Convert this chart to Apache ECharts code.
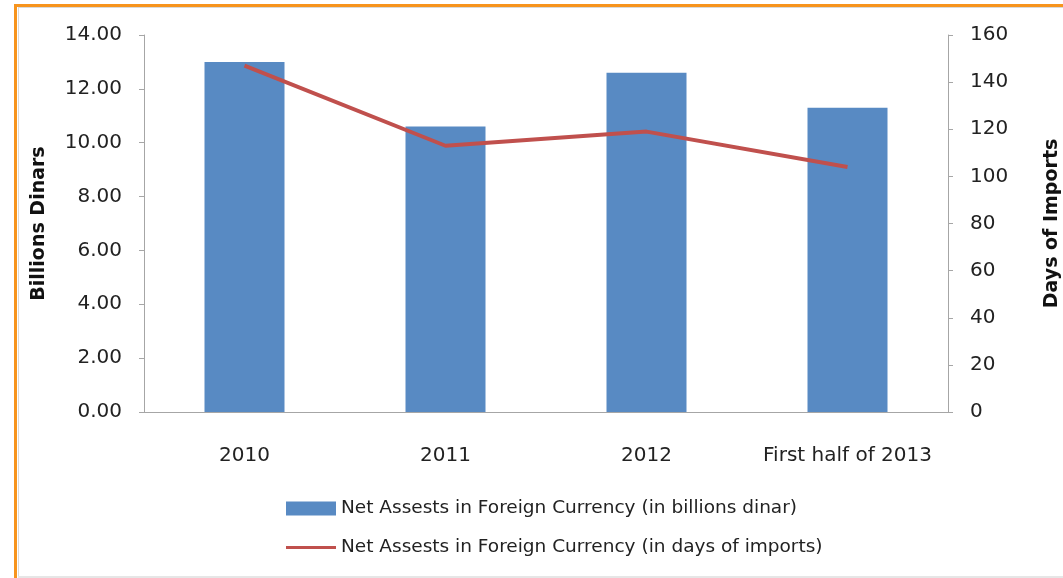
<!DOCTYPE html>
<html>
<head>
<meta charset="utf-8">
<script src="https://cdn.jsdelivr.net/npm/echarts@6/dist/echarts.min.js"></script>
<style>
 html, body { margin: 0; padding: 0; background: #fff; }
 #main { width: 1063px; height: 578px; }
</style>
</head>
<body>
<div id="main"></div>
<script>
var categories = ['2010', '2011', '2012', 'First half of 2013'];
var assetsBillions = [13.0, 10.6, 12.6, 11.3];
var assetsDays = [147, 113, 119, 104];
var leftTicks = { min: 0, max: 14, interval: 2 };
var rightTicks = { min: 0, max: 160, interval: 20 };

var barName = 'Net Assests in Foreign Currency (in billions dinar)';
var lineName = 'Net Assests in Foreign Currency (in days of imports)';

var chart = echarts.init(document.getElementById('main'));
var font = '"DejaVu Sans", sans-serif';
var axisGray = '#a6a6a6';

var option = {
 textStyle: { fontFamily: font },
 animation: false,
 // frame round the chart
 graphic: [
  { type: 'rect', shape: { x: 14, y: 4, width: 1063, height: 3 }, style: { fill: '#f7941d' } },
  { type: 'rect', shape: { x: 14, y: 4, width: 3, height: 578 }, style: { fill: '#f7941d' } },
  { type: 'rect', shape: { x: 18, y: 7, width: 1063, height: 1 }, style: { fill: '#d9d9d9' } },
  { type: 'rect', shape: { x: 18, y: 7, width: 1, height: 578 }, style: { fill: '#d9d9d9' } },
  { type: 'rect', shape: { x: 18, y: 576, width: 1063, height: 2 }, style: { fill: '#e6e6e6' } }
 ],
 grid: { left: 144, right: 115, top: 35, bottom: 166, outerBoundsMode: 'none' },
 // two legends so the line key can be a thin stroke
 legend: [
  {
   left: 281,
   top: 494,
   itemWidth: 50,
   itemHeight: 14,
   itemGap: 6,
   textStyle: { fontSize: 18.5, color: '#222', fontFamily: font },
   data: [{ name: barName, icon: 'rect' }]
  },
  {
   left: 281,
   top: 533,
   itemWidth: 50,
   itemHeight: 3,
   textStyle: { fontSize: 18.5, color: '#222', fontFamily: font },
   data: [{ name: lineName, icon: 'rect' }]
  }
 ],
 xAxis: {
  type: 'category',
  data: categories,
  axisLine: { lineStyle: { color: axisGray } },
  axisTick: { length: 5, lineStyle: { color: axisGray } },
  axisLabel: { margin: 34, fontSize: 20, color: '#222', interval: 0, hideOverlap: false }
 },
 yAxis: [
  {
   type: 'value',
   min: leftTicks.min,
   max: leftTicks.max,
   interval: leftTicks.interval,
   name: 'Billions Dinars',
   nameLocation: 'middle',
   nameGap: 95,
   nameTextStyle: { fontSize: 19, fontWeight: 'bold', color: '#111' },
   splitLine: { show: false },
   axisLine: { show: true, lineStyle: { color: axisGray } },
   axisTick: { show: true, length: 5, lineStyle: { color: axisGray } },
   axisLabel: {
    margin: 22, fontSize: 20, color: '#222',
    formatter: function (v) { return v.toFixed(2); }
   }
  },
  {
   type: 'value',
   min: rightTicks.min,
   max: rightTicks.max,
   interval: rightTicks.interval,
   position: 'right',
   name: 'Days of Imports',
   nameLocation: 'middle',
   nameGap: 95,
   nameTextStyle: { fontSize: 19, fontWeight: 'bold', color: '#111' },
   splitLine: { show: false },
   axisLine: { show: true, lineStyle: { color: axisGray } },
   axisTick: { show: true, length: 5, lineStyle: { color: axisGray } },
   axisLabel: { margin: 22, fontSize: 20, color: '#222' }
  }
 ],
 series: [
  {
   name: barName,
   type: 'bar',
   yAxisIndex: 0,
   data: assetsBillions,
   barWidth: 80,
   itemStyle: { color: '#588ac3' }
  },
  {
   name: lineName,
   type: 'line',
   yAxisIndex: 1,
   data: assetsDays,
   symbol: 'none',
   lineStyle: { color: '#c0504d', width: 4 },
   itemStyle: { color: '#c0504d' }
  }
 ]
};
chart.setOption(option);
</script>
</body>
</html>
